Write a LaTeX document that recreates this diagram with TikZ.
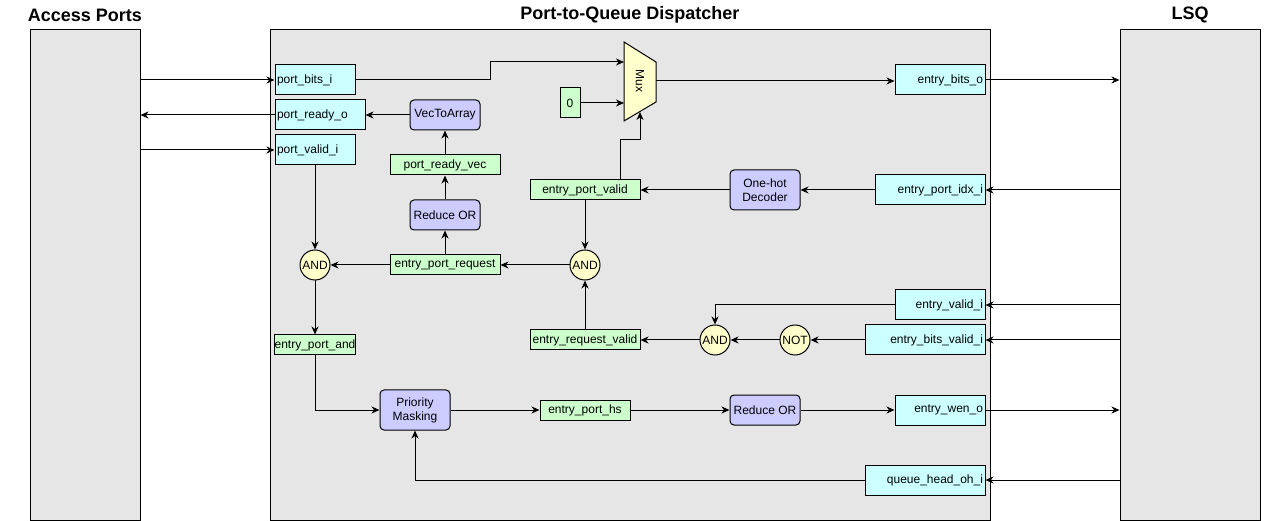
\documentclass[tikz,border=0pt]{standalone}
\usepackage{fontspec}
\setmainfont{Liberation Sans}
\usetikzlibrary{arrows.meta}
\definecolor{unitgray}{HTML}{E6E6E6}
\definecolor{portcyan}{HTML}{CCFFFF}
\definecolor{siggreen}{HTML}{CCFFCC}
\definecolor{blkblue}{HTML}{CCCCFF}
\definecolor{gateyel}{HTML}{FFFFCC}

\begin{document}
\begin{tikzpicture}[x=1pt,y=-1pt,line width=1pt,
        lbl/.style={font=\fontsize{12}{14}\selectfont},
        ttl/.style={font=\bfseries\fontsize{18}{21}\selectfont},
        unit/.style={draw,fill=unitgray,minimum width=#1,minimum height=490pt},
        portL/.style={lbl,draw,fill=portcyan,text width=#1,align=left,inner xsep=2pt,minimum height=30pt},
        portR/.style={lbl,draw,fill=portcyan,text width=#1,align=right,inner xsep=2pt,minimum height=30pt},
        sigbox/.style={lbl,draw,fill=siggreen,minimum width=#1,minimum height=20pt,inner sep=0pt},
        opbox/.style={lbl,draw,fill=blkblue,rounded corners=4pt,align=center,minimum width=70pt,minimum height=#1},
        gatec/.style={lbl,draw,fill=gateyel,circle,minimum size=30pt,inner sep=0pt},
        wire/.style={-{Stealth[length=8pt,width=7pt,inset=2.5pt]}}]
    \useasboundingbox (0,0) rectangle (1275,521);
    %% units
    \node[unit=110pt] (ap) at (85,275) {};
    \node[unit=720pt] (disp) at (630,275) {};
    \node[unit=140pt] (lsq) at (1190,275) {};
    \node[ttl] (apt) at (85,15) {Access Ports};
    \node[ttl] (dispt) at (630,15) {Port-to-Queue Dispatcher};
    \node[ttl] (lsqt) at (1190,15) {LSQ};
    %% ports
    \node[portL=76pt] (pbits) at (315,80) {port\_bits\_i};
    \node[portL=86pt] (pready) at (320,115) {port\_ready\_o};
    \node[portL=76pt] (pvalid) at (315,150) {port\_valid\_i};
    \node[portR=86pt] (ebits) at (940,80) {entry\_bits\_o};
    \node[portR=106pt] (eidx) at (930,190) {entry\_port\_idx\_i};
    \node[portR=86pt] (evalid) at (940,305) {entry\_valid\_i};
    \node[portR=116pt] (ebvalid) at (925,340) {entry\_bits\_valid\_i};
    \node[portR=86pt] (ewen) at (940,410) {entry\_wen\_o};
    \node[portR=116pt] (qhead) at (925,480) {queue\_head\_oh\_i};
    %% signals
    \node[sigbox=20pt,minimum height=30pt] (zero) at (570,103) {0};
    \node[sigbox=110pt] (readyvec) at (445,165) {port\_ready\_vec};
    \node[sigbox=110pt] (epvalid) at (585,190) {entry\_port\_valid};
    \node[sigbox=110pt] (epreq) at (445,265) {entry\_port\_request};
    \node[sigbox=80pt] (epand) at (315,345) {entry\_port\_and};
    \node[sigbox=110pt] (erqvalid) at (585,340) {entry\_request\_valid};
    \node[sigbox=90pt] (ephs) at (585,410) {entry\_port\_hs};
    %% blocks
    \node[opbox=30pt] (v2a) at (445,115) {VecToArray};
    \node[opbox=30pt] (redor1) at (445,215) {Reduce OR};
    \node[opbox=40pt] (decoder) at (765,190) {One-hot\\Decoder};
    \node[opbox=30pt] (redor2) at (765,410) {Reduce OR};
    \node[opbox=40pt] (prio) at (415,410) {Priority\\Masking};
    \node[gatec] (and1) at (315,265) {AND};
    \node[gatec] (and2) at (585,265) {AND};
    \node[gatec] (and3) at (715,340) {AND};
    \node[gatec] (notg) at (795,340) {NOT};
    %% mux
    \draw[fill=gateyel] (624,42) -- (656,62) -- (656,102) -- (624,121) -- cycle;
    \node[lbl,rotate=-90] (mux) at (640,81) {Mux};
    \coordinate (muxa) at (624,62);
    \coordinate (muxo) at (656,81);
    \coordinate (muxs) at (640,112);
    %% connections
    \draw[wire] (ap.east |- pbits.west) -- (pbits.west);
    \draw[wire] (pready.west) -- (ap.east |- pready.west);
    \draw[wire] (ap.east |- pvalid.west) -- (pvalid.west);
    \draw[wire] (pbits.east) -- (490,80) |- (muxa);
    \draw[wire] (zero.east) -- (zero.east -| muxa);
    \draw[wire] (muxo) -- (muxo -| ebits.west);
    \draw[wire] (ebits.east) -- (lsq.west |- ebits.east);
    \draw[wire] (lsq.west |- eidx.east) -- (eidx.east);
    \draw[wire] (eidx.west) -- (decoder.east);
    \draw[wire] (decoder.west) -- (epvalid.east);
    \draw[wire] ([xshift=35pt]epvalid.north) -- ++(0,-40) -| (muxs);
    \draw[wire] (epvalid.south) -- (and2.north);
    \draw[wire] (and2.west) -- (epreq.east);
    \draw[wire] (epreq.west) -- (and1.east);
    \draw[wire] (epreq.north) -- (redor1.south);
    \draw[wire] (redor1.north) -- (readyvec.south);
    \draw[wire] (readyvec.north) -- (v2a.south);
    \draw[wire] (v2a.west) -- (pready.east);
    \draw[wire] (pvalid.south) -- (and1.north);
    \draw[wire] (and1.south) -- (epand.north);
    \draw[wire] (epand.south) |- (prio.west);
    \draw[wire] (prio.east) -- (ephs.west);
    \draw[wire] (ephs.east) -- (redor2.west);
    \draw[wire] (redor2.east) -- (ewen.west);
    \draw[wire] (ewen.east) -- (lsq.west |- ewen.east);
    \draw[wire] (lsq.west |- qhead.east) -- (qhead.east);
    \draw[wire] (qhead.west) -| (prio.south);
    \draw[wire] (lsq.west |- evalid.east) -- (evalid.east);
    \draw[wire] (evalid.west) -| (and3.north);
    \draw[wire] (lsq.west |- ebvalid.east) -- (ebvalid.east);
    \draw[wire] (ebvalid.west) -- (notg.east);
    \draw[wire] (notg.west) -- (and3.east);
    \draw[wire] (and3.west) -- (erqvalid.east);
    \draw[wire] (erqvalid.north) -- (and2.south);
\end{tikzpicture}
\end{document}
